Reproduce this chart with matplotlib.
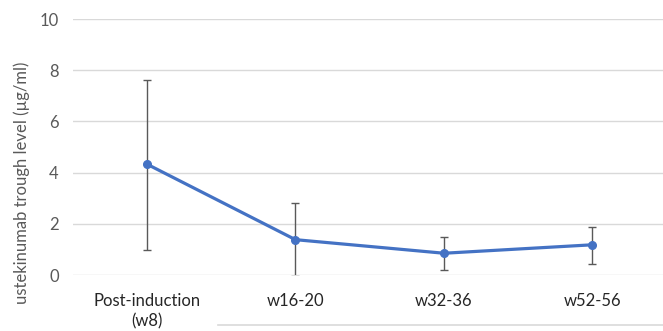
import matplotlib.pyplot as plt
from matplotlib.lines import Line2D

categories = ["Post-induction\n(w8)", "w16-20", "w32-36", "w52-56"]
trough = [4.33, 1.38, 0.85, 1.18]
err_low = [0.97, -0.04, 0.20, 0.43]
err_high = [7.62, 2.80, 1.49, 1.88]

plt.rcParams['font.family'] = ['Lato', 'DejaVu Sans']

fig = plt.figure(figsize=(6.63, 3.31), dpi=100)
# axis runs slightly past the right edge, like the clipped original
ax = fig.add_axes([72.7 / 663, 56 / 331, 594 / 663, 256 / 331])

x = list(range(len(categories)))
lo = [t - l for t, l in zip(trough, err_low)]
hi = [h - t for t, h in zip(trough, err_high)]

ax.errorbar(x, trough, yerr=[lo, hi], fmt="none", ecolor="#595959",
            elinewidth=1.0, capsize=3, capthick=1.0, zorder=3)
ax.plot(x, trough, "-o", color="#4472C4", linewidth=2.3, markersize=5.5, zorder=4)

ax.set_xlim(-0.5, len(categories) - 0.5)
ax.set_ylim(0, 10)
ax.set_yticks(range(0, 11, 2))
ax.grid(axis="y", color="#d9d9d9", linewidth=1.0)
ax.set_axisbelow(True)
for s in ax.spines.values():
    s.set_visible(False)
ax.tick_params(length=0, colors="#595959", labelsize=12)
ax.tick_params(axis="y", pad=10)
ax.tick_params(axis="x", pad=13)
ax.set_xticks(x)
ax.set_xticklabels(categories, color="#262626", linespacing=1.3)
ax.set_ylabel("ustekinumab trough level (\u00b5g/ml)", color="#595959",
              fontsize=12)
ax.yaxis.set_label_coords(-0.072, 0.36)

# stray border line at the bottom of the original image
fig.add_artist(Line2D([218 / 663, 1.0], [6 / 331, 6 / 331], color="#d9d9d9",
                      linewidth=1.2, transform=fig.transFigure))

fig.savefig("out.png", dpi=100)
